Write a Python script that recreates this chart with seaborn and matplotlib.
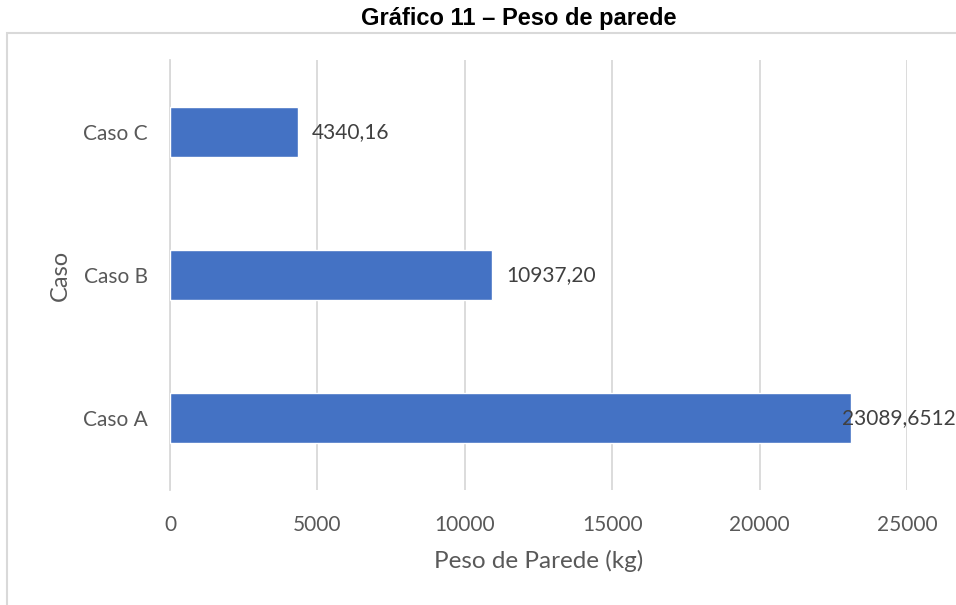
import matplotlib
matplotlib.use("Agg")
import matplotlib.pyplot as plt
import pandas as pd
import seaborn as sns
from matplotlib.patches import Rectangle

casos = ["Caso C", "Caso B", "Caso A"]
peso = [4340.16, 10937.20, 23089.6512]
rotulos = ["4340,16", "10937,20", "23089,6512"]
ticks_x = [0, 5000, 10000, 15000, 20000, 25000]

df = pd.DataFrame({"Caso": casos, "Peso": peso})

sns.set_theme(style="white")
plt.rcParams["font.family"] = ["Lato", "DejaVu Sans"]

fig = plt.figure(figsize=(9.56, 6.05), dpi=100)
ax = fig.add_axes([170 / 956, 1 - 490 / 605, (907 - 170) / 956, (490 - 60) / 605])

# borda da area do grafico (estilo Excel)
fig.patches.append(Rectangle((7 / 956, -0.1), 1.2, 1 - 33 / 605 + 0.1,
                             transform=fig.transFigure, fill=False,
                             edgecolor="#d9d9d9", linewidth=1.5, zorder=0))

sns.barplot(data=df, x="Peso", y="Caso", order=casos, color="#4472C4",
            width=0.35, saturation=1, ax=ax, zorder=3)

ax.set_xlim(0, 25000)
ax.set_xticks(ticks_x)
ax.set_xticklabels([str(t) for t in ticks_x])
ax.grid(axis="x", color="#d9d9d9", linewidth=1.3, zorder=0)
ax.set_axisbelow(True)
for s in ["top", "right", "bottom"]:
    ax.spines[s].set_visible(False)
ax.spines["left"].set_color("#d9d9d9")
ax.spines["left"].set_linewidth(1.3)
ax.tick_params(axis="both", length=0, labelsize=15, colors="#595959")
ax.tick_params(axis="x", pad=18)
ax.tick_params(axis="y", pad=16)

ax.set_xlabel("Peso de Parede (kg)", fontsize=17.5, color="#595959", labelpad=11)
ax.set_ylabel("Caso", fontsize=17, color="#595959", labelpad=9)

# Excel empurra o ultimo rotulo para dentro da barra
offsets = [480, 480, -300]
for i, (v, r, d) in enumerate(zip(peso, rotulos, offsets)):
    ax.text(v + d, i, r, va="center", ha="left", fontsize=15,
            color="#404040", clip_on=False, zorder=4)

fig.text(519 / 956, 1 - 18 / 605, "Gráfico 11 – Peso de parede",
         ha="center", va="center", fontsize=17, fontweight="bold",
         family=["Liberation Sans", "DejaVu Sans"], color="black")

fig.savefig("out.png", dpi=100, facecolor="white")
